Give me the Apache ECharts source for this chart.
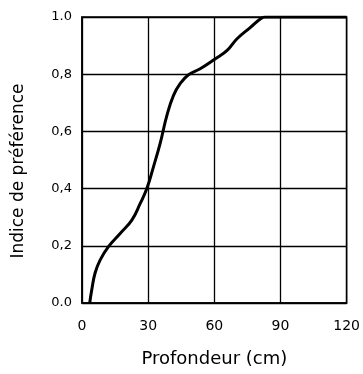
<!DOCTYPE html>
<html>
<head>
<meta charset="utf-8">
<script src="https://cdn.jsdelivr.net/npm/echarts@6/dist/echarts.min.js"></script>
<style>html,body{margin:0;padding:0;background:#fff}#c{width:363px;height:374px}</style>
</head>
<body>
<div id="c"></div>
<script>
const depth = [3.5, 4.4, 5.9, 8.2, 12, 17.3, 22.6, 26.4, 29.4, 32.4, 35.5, 38.5, 41.5, 44.5, 48.3, 53.6, 60.5, 65.8, 70.3, 76.4, 81, 83, 120];
const preference = [0, 0.045, 0.104, 0.15, 0.197, 0.243, 0.29, 0.348, 0.4, 0.476, 0.56, 0.656, 0.726, 0.767, 0.798, 0.819, 0.854, 0.883, 0.924, 0.964, 0.994, 1.0, 1.0];
const yTickLabels = ["0.0", "0,2", "0,4", "0,6", "0,8", "1.0"];
const xTickLabels = ["0", "30", "60", "90", "120"];

const points = depth.map((d, i) => [d, preference[i]]);
const font = "DejaVu Sans";
const chart = echarts.init(document.getElementById('c'), null, {renderer: 'canvas'});
chart.setOption({
  animation: false,
  backgroundColor: '#fff',
  grid: {left: 82, right: 16, top: 17, bottom: 71, show: true, borderColor: '#000', borderWidth: 1.5, backgroundColor: 'transparent'},
  xAxis: {
    type: 'value', min: 0, max: 120, interval: 30,
    name: 'Profondeur (cm)', nameLocation: 'middle', nameGap: 47,
    nameTextStyle: {fontFamily: font, fontSize: 18, color: '#000'},
    axisLine: {show: true, lineStyle: {color: '#000', width: 1.5}},
    axisTick: {show: false},
    axisLabel: {margin: 16, fontFamily: font, fontSize: 14, color: '#000',
      formatter: v => xTickLabels[Math.round(v / 30)]},
    splitLine: {show: true, lineStyle: {color: '#000', width: 1.3}}
  },
  yAxis: {
    type: 'value', min: 0, max: 1, interval: 0.2,
    name: 'Indice de préférence', nameLocation: 'middle', nameGap: 55,
    nameTextStyle: {fontFamily: font, fontSize: 17, color: '#000', padding: [0, 22, 0, 0]},
    axisLine: {show: true, lineStyle: {color: '#000', width: 1.5}},
    axisTick: {show: false},
    axisLabel: {margin: 10, fontFamily: font, fontSize: 13, color: '#000',
      formatter: v => yTickLabels[Math.round(v / 0.2)]},
    splitLine: {show: true, lineStyle: {color: '#000', width: 1.3}}
  },
  series: [{
    type: 'line', data: points, showSymbol: false, smooth: 0.45,
    lineStyle: {color: '#000', width: 3}
  }]
});
</script>
</body>
</html>
